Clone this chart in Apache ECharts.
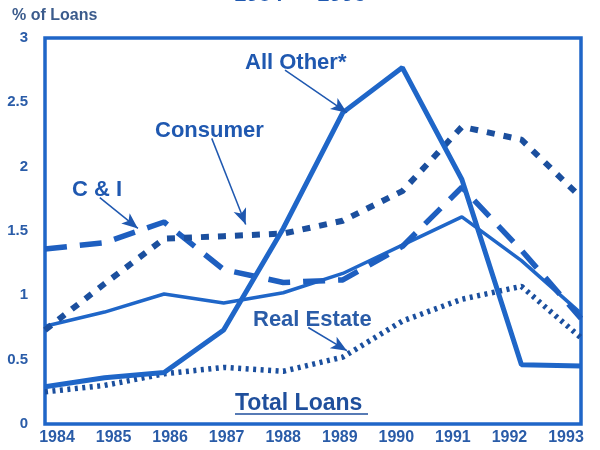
<!DOCTYPE html>
<html>
<head>
<meta charset="utf-8">
<script src="https://cdn.jsdelivr.net/npm/echarts@6/dist/echarts.min.js"></script>
<style>
html, body { margin: 0; padding: 0; background: #fff; }
#chart { width: 600px; height: 450px; }
</style>
</head>
<body>
<div id="chart"></div>
<script>
// 年份
var years = [1984, 1985, 1986, 1987, 1988, 1989, 1990, 1991, 1992, 1993]
// 各类贷款 (% of Loans)
var allOther = [0.29, 0.36, 0.40, 0.73, 1.52, 2.42, 2.77, 1.90, 0.46, 0.45]
var totalLoans = [0.76, 0.87, 1.01, 0.94, 1.02, 1.17, 1.39, 1.61, 1.27, 0.86]
var cAndI = [1.36, 1.41, 1.57, 1.20, 1.10, 1.12, 1.38, 1.84, 1.35, 0.82]
var consumer = [0.73, 1.09, 1.44, 1.46, 1.48, 1.58, 1.81, 2.31, 2.21, 1.76]
var realEstate = [0.25, 0.30, 0.39, 0.44, 0.41, 0.52, 0.80, 0.97, 1.07, 0.67]

// 标注箭头 [起点, 终点] (年份, 数值)
var arrowAllOther = [[1988.03, 2.75], [1989.07, 2.42]]
var arrowConsumer = [[1986.80, 2.22], [1987.37, 1.55]]
var arrowCandI = [[1984.92, 1.76], [1985.56, 1.52]]
var arrowRealEstate = [[1988.42, 0.75], [1989.07, 0.57]]

var blue = '#1f66c8'
var darkBlue = '#1b4f9e'
var textBlue = '#1f58b0'
var font = 'Liberation Sans'

function pairs(vals) {
	var out = []
	for (var i = 0; i < years.length; i++) {
		out.push([years[i], vals[i]])
	}
	return out
}

function arrow(a) {
	return {
		silent: true,
		symbol: ['none', 'arrow'],
		symbolSize: [10, 16],
		label: { show: false },
		lineStyle: { color: textBlue, width: 1.5, type: 'solid' },
		data: [[{ coord: a[0] }, { coord: a[1] }]]
	}
}

function note(text, left, top, size, color) {
	return {
		type: 'text',
		left: left,
		top: top,
		style: { text: text, fontFamily: font, fontSize: size, fontWeight: 'bold', fill: color }
	}
}

var myChart = echarts.init(document.getElementById('chart'))
myChart.setOption({
	animation: false,
	title: {
		text: '1984 — 1993',
		left: 'center',
		top: -21,
		textStyle: { fontFamily: font, fontSize: 22, fontWeight: 'bold', color: textBlue }
	},
	grid: {
		left: 45,
		right: 19,
		top: 38,
		bottom: 26,
		show: true,
		borderColor: blue,
		borderWidth: 3.5,
		backgroundColor: 'transparent'
	},
	xAxis: [{
		type: 'value',
		min: 1984,
		max: 1993,
		interval: 1,
		axisLine: { show: false },
		axisTick: { show: false },
		splitLine: { show: false },
		axisLabel: { show: false }
	}, {
		// 年份标签在原图中略向右偏
		type: 'value',
		position: 'bottom',
		min: 1983.788,
		max: 1993.265,
		axisLine: { show: false },
		axisTick: { show: false },
		splitLine: { show: false },
		axisLabel: {
			customValues: years,
			margin: 6,
			fontFamily: font,
			fontSize: 16,
			fontWeight: 'bold',
			color: '#2a5ca8',
			formatter: function(v) { return String(Math.round(v)) }
		}
	}],
	yAxis: {
		type: 'value',
		min: 0,
		max: 3,
		interval: 0.5,
		name: '% of Loans',
		nameLocation: 'end',
		nameGap: 14,
		nameTextStyle: {
			fontFamily: font,
			fontSize: 16,
			fontWeight: 'bold',
			color: '#3b5b8c',
			align: 'left',
			padding: [0, 0, 0, -33]
		},
		axisLine: { show: false },
		axisTick: { show: false },
		splitLine: { show: false },
		axisLabel: {
			margin: 17,
			fontFamily: font,
			fontSize: 15,
			fontWeight: 'bold',
			color: '#2a5ca8'
		}
	},
	series: [{
		name: 'Real Estate',
		type: 'line',
		data: pairs(realEstate),
		symbol: 'none',
		lineStyle: { color: '#1b4f9e', width: 5.5, type: [3, 4.5], cap: 'butt' },
		markLine: arrow(arrowRealEstate)
	}, {
		name: 'Total Loans',
		type: 'line',
		data: pairs(totalLoans),
		symbol: 'none',
		lineStyle: { color: blue, width: 3.5 }
	}, {
		name: 'C & I',
		type: 'line',
		data: pairs(cAndI),
		symbol: 'none',
		lineStyle: { color: '#1e5fc0', width: 5.5, type: [22, 13], cap: 'butt' },
		markLine: arrow(arrowCandI)
	}, {
		name: 'Consumer',
		type: 'line',
		data: pairs(consumer),
		symbol: 'none',
		lineStyle: { color: darkBlue, width: 6, type: [8, 9], cap: 'butt' },
		markLine: arrow(arrowConsumer)
	}, {
		name: 'All Other*',
		type: 'line',
		data: pairs(allOther),
		symbol: 'none',
		lineStyle: { color: blue, width: 5 },
		markLine: arrow(arrowAllOther)
	}],
	graphic: [
		note('All Other*', 245, 52, 22, textBlue),
		note('Consumer', 155, 120, 22, textBlue),
		note('C & I', 72, 179, 22, textBlue),
		note('Real Estate', 253, 309, 22, '#2a5ca8'),
		note('Total Loans', 235, 392, 23, '#1f4f9c'),
		{
			type: 'line',
			shape: { x1: 235, y1: 414, x2: 368, y2: 414 },
			style: { stroke: '#1f4f9c', lineWidth: 1.5 }
		}
	]
})
</script>
</body>
</html>
